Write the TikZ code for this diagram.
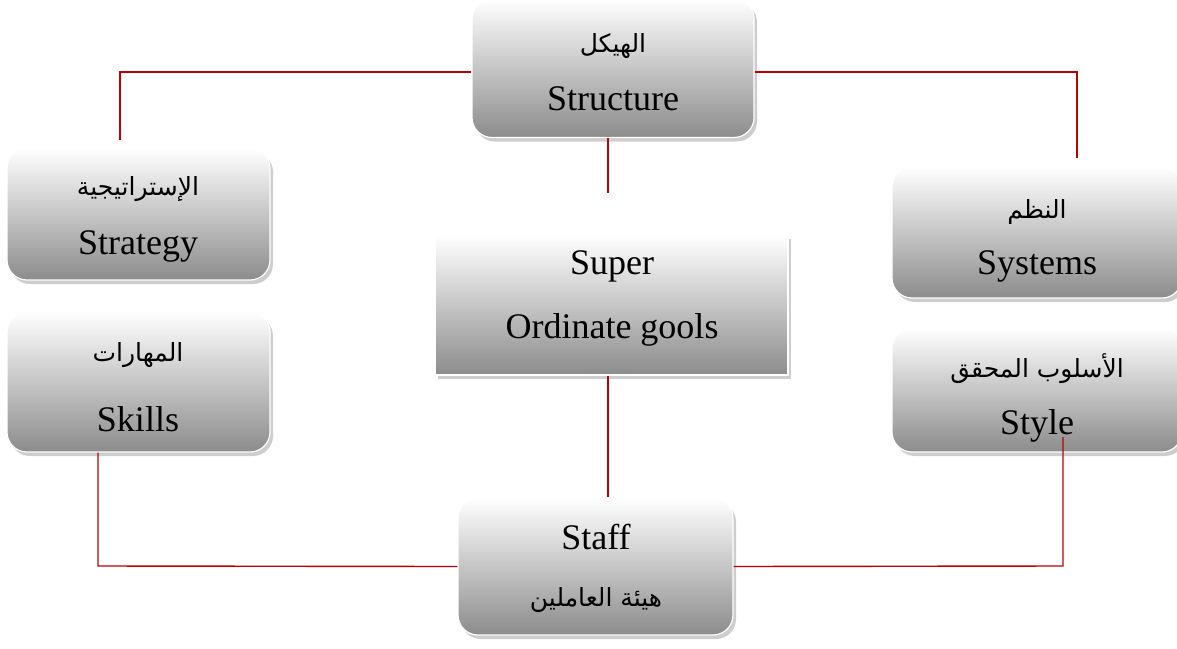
\documentclass[tikz,border=0pt]{standalone}
\usepackage{fontspec}
\setmainfont{Liberation Serif}
\newfontfamily\arabicfont[Script=Arabic]{DejaVu Sans}
\TeXXeTstate=1
\usetikzlibrary{shadows}
\definecolor{linkred}{RGB}{192,0,0}
\definecolor{cardlow}{RGB}{140,140,140}
\definecolor{cardmid}{RGB}{212,212,212}
\definecolor{cardshadow}{RGB}{205,205,205}
\begin{document}
\begin{tikzpicture}[x=1pt,y=-1pt,
  card/.style={rectangle, rounded corners=20pt, top color=white, middle color=cardmid, bottom color=cardlow,
    draw=white, line width=1.2pt, inner sep=0pt,
    drop shadow={shadow xshift=3pt, shadow yshift=-4pt, fill=cardshadow, opacity=1}},
  flatcard/.style={card, sharp corners},
  lat/.style={font=\fontsize{36}{40}\selectfont, inner sep=0pt},
  ar/.style={font=\arabicfont\fontsize{25}{30}\selectfont, inner sep=0pt},
  link/.style={draw=linkred, line width=1.4pt}]
\useasboundingbox (0,0) rectangle (1177,648);

% boxes of the 7-S model
\node[card, minimum width=282pt, minimum height=139pt] (structure) at (613,68) {};
\node[card, minimum width=263pt, minimum height=132pt] (strategy) at (138.5,214) {};
\node[card, minimum width=290pt, minimum height=131pt] (systems) at (1037,232.5) {};
\node[flatcard, minimum width=353pt, minimum height=140pt] (shared) at (611.5,305) {};
\node[card, minimum width=263pt, minimum height=140pt] (skills) at (138.5,382) {};
\node[card, minimum width=290pt, minimum height=124pt] (style) at (1037,390) {};
\node[card, minimum width=275pt, minimum height=137pt] (staff) at (595.5,566.5) {};

% labels
\node[ar]  (structureAr) at (613,46)  {\beginR الهيكل\endR};
\node[lat] (structureEn) at (613,99)  {Structure};
\node[ar]  (strategyAr)  at (138,189) {\beginR الإستراتيجية\endR};
\node[lat] (strategyEn)  at (138,246) {Strategy};
\node[ar]  (systemsAr)   at (1037,212) {\beginR النظم\endR};
\node[lat] (systemsEn)   at (1037,266) {Systems};
\node[lat] (sharedA)     at (612,266) {Super};
\node[lat] (sharedB)     at (612,330) {Ordinate gools};
\node[ar]  (skillsAr)    at (138,355) {\beginR المهارات\endR};
\node[lat] (skillsEn)    at (138,419) {Skills};
\node[ar]  (styleAr)     at (1037,369) {\beginR الأسلوب المحقق\endR};
\node[lat] (styleEn)     at (1037,426) {Style};
\node[lat] (staffEn)     at (596,537) {Staff};
\node[ar]  (staffAr)     at (596,600) {\beginR هيئة العاملين\endR};

% connector end points
\coordinate (tl) at (120,140);
\coordinate (tr) at (1077,158);
\coordinate (mid) at (608,193);
\coordinate (bl) at (98,566);
\coordinate (st) at (1063,437);
\coordinate (br) at (1063,566);

% connectors
\draw[link] ([yshift=-4pt]structure.west) -| (tl);
\draw[link] ([yshift=-4pt]structure.east) -| (tr);
\draw[link] (mid |- structure.south) -- (mid);
\draw[link] (mid |- shared.south) -- (mid |- staff.north);
\draw[link] (bl |- skills.south) -- (bl) -- (staff.west);
\draw[link] (st) -- (br) -- (staff.east);
\end{tikzpicture}
\end{document}
